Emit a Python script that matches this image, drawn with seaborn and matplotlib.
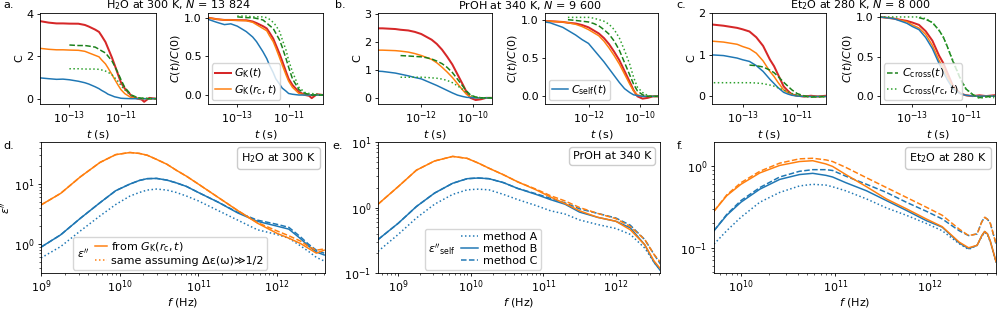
import numpy as np
import matplotlib
matplotlib.use('Agg')
import matplotlib.pyplot as plt
from matplotlib.lines import Line2D
from matplotlib.offsetbox import AnchoredText
from matplotlib.ticker import NullLocator
import seaborn as sns

# ---------------------------------------------------------------------------
# Top row: normalised time correlation functions C(t)/C(0), read off the
# right-hand panels, plus the amplitude C(0).
# order inside the *_C0 lists: G_K, G_K(rc), C_self, C_cross, C_cross(rc)
# ---------------------------------------------------------------------------
H2O_LOGT = [-14.15, -13.8, -13.5, -13.25, -13.0, -12.65, -12.4, -12.25, -12.0, -11.85, -11.75,
            -11.6, -11.5, -11.35, -11.25, -11.1, -11.0, -10.85, -10.6, -10.35, -10.2, -10.1, -9.9, -9.65]
H2O_GK = [1.0, 0.98, 0.97, 0.97, 0.967, 0.966, 0.95, 0.93, 0.89, 0.86, 0.81, 0.73, 0.65, 0.53,
          0.44, 0.30, 0.21, 0.13, 0.04, 0.0, -0.01, -0.04, 0.01, 0.0]
H2O_GK_RC = [1.0, 0.98, 0.97, 0.97, 0.965, 0.96, 0.94, 0.91, 0.86, 0.83, 0.77, 0.69, 0.61, 0.48,
             0.39, 0.26, 0.18, 0.10, 0.02, 0.0, 0.0, 0.0, 0.0, 0.0]
H2O_SELF = [0.98, 0.94, 0.91, 0.92, 0.89, 0.82, 0.75, 0.69, 0.56, 0.47, 0.39, 0.29, 0.21, 0.14,
            0.09, 0.05, 0.02, 0.01, 0.0, 0.0, 0.0, 0.0, 0.0, 0.0]
H2O_CROSS = [None, None, None, None, 1.01, 1.0, 1.0, 0.99, 0.97, 0.93, 0.9, 0.86, 0.8, 0.71,
             0.62, 0.47, 0.36, 0.21, 0.07, 0.02, 0.01, 0.0, 0.0, 0.0]
H2O_CROSS_RC = [None, None, None, None, 1.02, 1.02, 1.01, 1.01, 1.01, 1.0, 0.98, 0.94, 0.9, 0.82,
                0.72, 0.58, 0.45, 0.3, 0.1, 0.03, 0.02, 0.02, 0.01, 0.0]
H2O_C0 = [3.65, 2.37, 1.0, 2.5, 1.38]

PROH_LOGT = [-13.7, -13.5, -13.0, -12.8, -12.5, -12.25, -12.0, -11.8, -11.6, -11.4, -11.2,
             -11.0, -10.8, -10.6, -10.4, -10.25, -10.1, -9.9, -9.7, -9.5, -9.25]
PROH_GK = [0.98, 0.98, 0.97, 0.96, 0.95, 0.93, 0.9, 0.86, 0.82, 0.76, 0.68, 0.58, 0.47, 0.33,
           0.19, 0.08, 0.0, -0.03, -0.02, 0.0, 0.0]
PROH_GK_RC = [0.98, 0.98, 0.97, 0.96, 0.94, 0.91, 0.87, 0.83, 0.79, 0.72, 0.63, 0.53, 0.42, 0.29,
              0.16, 0.07, 0.02, 0.0, 0.0, 0.0, 0.0]
PROH_SELF = [0.97, 0.96, 0.9, 0.86, 0.8, 0.74, 0.69, 0.61, 0.53, 0.45, 0.36, 0.27, 0.18, 0.1,
             0.05, 0.02, 0.01, 0.0, 0.0, 0.0, 0.0]
PROH_CROSS = [None, None, None, 1.0, 0.99, 0.98, 0.97, 0.95, 0.92, 0.87, 0.81, 0.72, 0.6, 0.44,
              0.28, 0.16, 0.07, 0.02, 0.0, 0.0, 0.0]
PROH_CROSS_RC = [None, None, None, 1.03, 1.03, 1.03, 1.03, 1.02, 1.0, 0.98, 0.94, 0.87, 0.76, 0.6,
                 0.42, 0.25, 0.12, 0.05, 0.01, 0.0, 0.0]
PROH_C0 = [2.55, 1.75, 0.99, 1.52, 0.72]

ET2O_LOGT = [-14.2, -13.7, -13.2, -13.0, -12.75, -12.5, -12.25, -12.0, -11.85, -11.7, -11.5,
             -11.35, -11.2, -11.0, -10.75, -10.5, -10.25, -9.95]
ET2O_GK = [1.0, 0.98, 0.95, 0.93, 0.9, 0.82, 0.7, 0.51, 0.42, 0.3, 0.14, 0.08, 0.03, 0.01,
           0.0, 0.01, 0.0, 0.01]
ET2O_GK_RC = [1.0, 0.98, 0.94, 0.9, 0.86, 0.78, 0.64, 0.45, 0.36, 0.25, 0.12, 0.07, 0.03, 0.01,
              0.0, 0.0, 0.0, 0.0]
ET2O_SELF = [1.0, 0.98, 0.92, 0.88, 0.84, 0.74, 0.6, 0.41, 0.31, 0.21, 0.1, 0.06, 0.03, 0.01,
             0.0, 0.0, 0.0, 0.0]
ET2O_CROSS = [None, None, None, None, 0.99, 0.97, 0.93, 0.83, 0.75, 0.63, 0.45, 0.33, 0.21, 0.09,
              0.02, -0.02, -0.01, 0.0]
ET2O_CROSS_RC = [1.0, 1.0, 1.0, 1.0, 1.0, 0.98, 0.93, 0.83, 0.75, 0.63, 0.46, 0.34, 0.22, 0.09,
                 0.02, -0.03, -0.01, -0.02]
ET2O_C0 = [1.73, 1.33, 1.0, 0.76, 0.33]

# ---------------------------------------------------------------------------
# Bottom row: dielectric loss spectra, log10(eps'') against log10(f / Hz)
# ---------------------------------------------------------------------------
D_LOGF = [9.0, 9.25, 9.5, 9.75, 9.95, 10.13, 10.25, 10.35, 10.47, 10.6, 10.72, 10.85, 11.0,
          11.25, 11.5, 11.75, 12.0, 12.15, 12.3, 12.4, 12.5, 12.6]
D_ORANGE = [0.652, 0.845, 1.12, 1.36, 1.49, 1.525, 1.51, 1.48, 1.41, 1.33, 1.23, 1.13, 1.0,
            0.78, 0.56, 0.35, 0.18, 0.1, 0.01, -0.07, -0.15, -0.1]
D_ORANGE_DASH = [0.652, 0.845, 1.12, 1.36, 1.49, 1.525, 1.51, 1.48, 1.41, 1.33, 1.23, 1.13, 1.0,
                 0.78, 0.56, 0.36, 0.22, 0.14, 0.05, -0.04, -0.1, -0.08]
D_BLUE = [-0.05, 0.155, 0.43, 0.69, 0.89, 1.0, 1.06, 1.09, 1.094, 1.066, 1.02, 0.96, 0.86,
          0.7, 0.52, 0.38, 0.3, 0.25, 0.09, -0.03, -0.13, -0.18]
D_BLUE_DASH = [-0.05, 0.155, 0.43, 0.69, 0.89, 1.0, 1.06, 1.09, 1.094, 1.066, 1.02, 0.96, 0.86,
               0.7, 0.53, 0.4, 0.33, 0.28, 0.12, 0.0, -0.1, -0.15]
D_BLUE_DOT = [-0.23, -0.04, 0.22, 0.47, 0.66, 0.8, 0.86, 0.9, 0.917, 0.9, 0.86, 0.8, 0.72,
              0.56, 0.4, 0.24, 0.16, 0.1, -0.03, -0.12, -0.22, -0.28]

E_LOGF = [8.72, 9.0, 9.25, 9.5, 9.75, 9.95, 10.1, 10.25, 10.45, 10.65, 10.9, 11.1, 11.3, 11.5,
          11.75, 12.0, 12.2, 12.4, 12.53, 12.62]
E_ORANGE = [0.05, 0.32, 0.57, 0.71, 0.78, 0.75, 0.68, 0.6, 0.5, 0.39, 0.27, 0.16, 0.06, -0.05,
            -0.15, -0.21, -0.34, -0.57, -0.82, -0.94]
E_ORANGE_DASH = [0.05, 0.32, 0.57, 0.71, 0.78, 0.75, 0.68, 0.6, 0.5, 0.39, 0.28, 0.18, 0.1, 0.0,
                 -0.09, -0.17, -0.29, -0.49, -0.72, -0.84]
E_BLUE = [-0.49, -0.24, 0.015, 0.22, 0.37, 0.44, 0.45, 0.44, 0.38, 0.29, 0.2, 0.12, 0.05, -0.07,
          -0.15, -0.21, -0.31, -0.57, -0.84, -0.97]
E_BLUE_DASH = [-0.49, -0.24, 0.015, 0.22, 0.37, 0.44, 0.45, 0.44, 0.38, 0.29, 0.21, 0.14, 0.07,
               -0.02, -0.09, -0.16, -0.27, -0.49, -0.72, -0.87]
E_BLUE_DOT = [-0.67, -0.41, -0.16, 0.05, 0.2, 0.27, 0.28, 0.27, 0.2, 0.12, 0.03, -0.05, -0.1,
              -0.19, -0.26, -0.32, -0.41, -0.62, -0.84, -0.96]

F_LOGF = [9.715, 9.85, 10.0, 10.2, 10.41, 10.62, 10.76, 10.9, 10.97, 11.11, 11.33, 11.54, 11.75,
          11.96, 12.13, 12.31, 12.41, 12.5, 12.55, 12.58, 12.61, 12.64, 12.7]
F_ORANGE = [-0.55, -0.36, -0.22, -0.08, 0.012, 0.06, 0.07, 0.03, 0.0, -0.1, -0.25, -0.4, -0.52,
            -0.645, -0.74, -0.93, -1.0, -0.97, -0.85, -0.8, -0.83, -0.92, -1.17]
F_ORANGE_DASH = [-0.55, -0.35, -0.2, -0.06, 0.04, 0.093, 0.1, 0.08, 0.06, -0.012, -0.14, -0.26,
                 -0.38, -0.5, -0.6, -0.77, -0.85, -0.83, -0.68, -0.625, -0.65, -0.7, -0.95]
F_BLUE = [-0.79, -0.6, -0.44, -0.28, -0.16, -0.1, -0.085, -0.11, -0.13, -0.2, -0.3, -0.42, -0.54,
          -0.665, -0.746, -0.94, -1.01, -0.97, -0.85, -0.8, -0.83, -0.92, -1.17]
F_BLUE_DASH = [-0.79, -0.59, -0.42, -0.26, -0.13, -0.06, -0.04, -0.04, -0.05, -0.12, -0.22, -0.32,
               -0.44, -0.55, -0.645, -0.79, -0.85, -0.83, -0.68, -0.625, -0.65, -0.7, -0.95]
F_BLUE_DOT = [-0.955, -0.79, -0.625, -0.44, -0.32, -0.24, -0.22, -0.23, -0.25, -0.3, -0.4, -0.51,
              -0.6, -0.7, -0.79, -0.95, -1.02, -0.97, -0.86, -0.81, -0.84, -0.93, -1.18]

SYSTEM_TITLES = [r'H$_2$O at 300 K, $N$ = 13 824', r'PrOH at 340 K, $N$ = 9 600',
                 r'Et$_2$O at 280 K, $N$ = 8 000']
SYSTEM_LABELS = [r'H$_2$O at 300 K', 'PrOH at 340 K', r'Et$_2$O at 280 K']

# ---------------------------------------------------------------------------
FS = 8.0
plt.rcParams.update({
    'font.family': ['DejaVu Sans'],
    'font.size': FS,
    'axes.linewidth': 0.6,
    'xtick.major.size': 2.5, 'ytick.major.size': 2.5,
    'xtick.minor.size': 1.45, 'ytick.minor.size': 1.45,
    'xtick.major.width': 0.6, 'ytick.major.width': 0.6,
    'xtick.minor.width': 0.45, 'ytick.minor.width': 0.45,
    'xtick.major.pad': 1.5, 'ytick.major.pad': 2.2,
    'axes.labelpad': 1.5,
    'lines.linewidth': 1.08,
    'legend.fontsize': FS,
})

RED, ORANGE, BLUE = '#d62728', '#ff7f0e', '#1f77b4'
DGREEN, LGREEN = '#1a801a', '#2ca02c'
# (colour, linestyle, linewidth) for G_K, G_K(rc), C_self, C_cross, C_cross(rc)
TOP_STYLES = [(RED, '-', 1.45), (ORANGE, '-', 1.08), (BLUE, '-', 1.08),
              (DGREEN, '--', 1.08), (LGREEN, ':', 1.08)]

W, H = 997, 309
fig = plt.figure(figsize=(W / 100, H / 100), dpi=100)


def px_axes(x0, y0, x1, y1):
    return fig.add_axes([x0 / W, 1 - y1 / H, (x1 - x0) / W, (y1 - y0) / H])


def draw(ax, x, y, color, ls='-', lw=1.08):
    x = np.asarray(x, dtype=float)
    y = np.asarray(y, dtype=float)
    sns.lineplot(x=x, y=y, ax=ax, color=color, linestyle=ls, linewidth=lw,
                 errorbar=None, sort=False)


top_boxes = [((40, 13, 156, 104), (208, 13, 323, 104)),
             ((378, 13, 492, 104), (545, 13, 658, 104)),
             ((712, 13, 826, 104), (880, 13, 995, 104))]
top_data = [(H2O_LOGT, [H2O_GK, H2O_GK_RC, H2O_SELF, H2O_CROSS, H2O_CROSS_RC], H2O_C0),
            (PROH_LOGT, [PROH_GK, PROH_GK_RC, PROH_SELF, PROH_CROSS, PROH_CROSS_RC], PROH_C0),
            (ET2O_LOGT, [ET2O_GK, ET2O_GK_RC, ET2O_SELF, ET2O_CROSS, ET2O_CROSS_RC], ET2O_C0)]
top_xlim = [(-14.14, -9.64), (-13.67, -9.27), (-14.12, -9.95)]
top_xlim_r = [(-14.14, -9.66), (-13.69, -9.3), (-14.2, -9.92)]
top_ylim = [((-0.25, 4.03), (-0.116, 1.06)), ((-0.22, 3.05), (-0.1, 1.087)),
            ((-0.18, 2.0), (-0.1, 1.05))]
top_xticks = [[1e-13, 1e-11], [1e-12, 1e-10], [1e-13, 1e-11]]
top_yticks = [[0, 2, 4], [0, 1, 2, 3], [0, 1, 2]]
legend_sets = [[0, 1], [2], [3, 4]]
legend_labels = [r'$G_\mathrm{K}(t)$', r'$G_\mathrm{K}(r_\mathrm{c},t)$', r'$C_\mathrm{self}(t)$',
                 r'$C_\mathrm{cross}(t)$', r'$C_\mathrm{cross}(r_\mathrm{c},t)$']
legend_hl = [1.4, 1.4, 1.0]
title_x = [178, 530, 860]

for i in range(3):
    logt, norm, amp = top_data[i]
    t = 10.0 ** np.asarray(logt)
    axl = px_axes(*top_boxes[i][0])
    axr = px_axes(*top_boxes[i][1])
    for k in range(5):
        c, ls, lw = TOP_STYLES[k]
        yn = np.asarray(norm[k], dtype=float)
        draw(axl, t, amp[k] * yn, c, ls, lw)
        draw(axr, t, yn, c, ls, lw)
    for ax, xl, yl in ((axl, top_xlim[i], top_ylim[i][0]), (axr, top_xlim_r[i], top_ylim[i][1])):
        ax.set_xscale('log')
        ax.set_xlim(10 ** xl[0], 10 ** xl[1])
        ax.set_ylim(*yl)
        ax.set_xticks(top_xticks[i])
        ax.xaxis.set_minor_locator(NullLocator())
        ax.set_xlabel(r'$t$ (s)')
    axl.set_yticks(top_yticks[i])
    axr.set_yticks([0.0, 0.5, 1.0])
    axl.set_ylabel('C')
    axr.set_ylabel(r'$C(t)/C(0)$')
    handles = [Line2D([], [], color=TOP_STYLES[k][0], ls=TOP_STYLES[k][1], lw=TOP_STYLES[k][2])
               for k in legend_sets[i]]
    axr.legend(handles, [legend_labels[k] for k in legend_sets[i]], loc='lower left',
               handlelength=legend_hl[i], handletextpad=0.3, borderpad=0.3, labelspacing=0.25,
               borderaxespad=0.35)
    fig.text(title_x[i] / W, 1 - 5 / H, SYSTEM_TITLES[i], ha='center', va='center')

# ---------------------------------------------------------------------------
bot_boxes = [(41, 142, 325, 273), (378, 142, 660, 273), (714, 142, 996, 273)]
bot_data = [(D_LOGF, D_ORANGE, D_ORANGE_DASH, D_BLUE, D_BLUE_DASH, D_BLUE_DOT),
            (E_LOGF, E_ORANGE, E_ORANGE_DASH, E_BLUE, E_BLUE_DASH, E_BLUE_DOT),
            (F_LOGF, F_ORANGE, F_ORANGE_DASH, F_BLUE, F_BLUE_DASH, F_BLUE_DOT)]
bot_xlim = [(9.0, 12.61), (8.72, 12.61), (9.715, 12.7)]
bot_ylim = [(-0.48, 1.70), (-1.0, 1.0), (-1.31, 0.30)]


def side_title_legend(ax, handles, labels, title, **kw):
    # legend whose title sits to the left of the entries
    leg = ax.legend(handles, labels, title=title, **kw)
    vbox = leg.get_children()[0]
    title_box, hbox = vbox.get_children()
    vbox._children = [hbox]
    hbox._children = [title_box] + hbox.get_children()
    hbox.align = 'center'
    return leg


bot_axes = []
for i in range(3):
    logf, o, od, b, bd, bdot = bot_data[i]
    f = 10.0 ** np.asarray(logf)
    ax = px_axes(*bot_boxes[i])
    bot_axes.append(ax)
    draw(ax, f, 10.0 ** np.asarray(bdot), BLUE, ':', 1.08)
    draw(ax, f, 10.0 ** np.asarray(b), BLUE, '-', 1.08)
    draw(ax, f, 10.0 ** np.asarray(bd), BLUE, '--', 1.08)
    draw(ax, f, 10.0 ** np.asarray(o), ORANGE, '-', 1.08)
    draw(ax, f, 10.0 ** np.asarray(od), ORANGE, '--', 1.08)
    ax.set_xscale('log')
    ax.set_yscale('log')
    ax.set_xlim(10 ** bot_xlim[i][0], 10 ** bot_xlim[i][1])
    ax.set_ylim(10 ** bot_ylim[i][0], 10 ** bot_ylim[i][1])
    ax.set_xlabel(r'$f$ (Hz)', labelpad=0.3)
    at = AnchoredText(SYSTEM_LABELS[i], loc='upper right', frameon=True, pad=0.35,
                      borderpad=0.45, prop=dict(size=FS))
    at.patch.set_boxstyle('round,pad=0,rounding_size=0.25')
    at.patch.set_edgecolor('0.8')
    ax.add_artist(at)

bot_axes[0].set_ylabel(r"$\varepsilon''$")
side_title_legend(bot_axes[0],
                  [Line2D([], [], color=ORANGE, lw=1.08),
                   Line2D([], [], color=ORANGE, lw=1.08, ls=':')],
                  [r'from $G_\mathrm{K}(r_\mathrm{c},t)$', 'same assuming Δε(ω)≫1/2'],
                  r"$\varepsilon''$", loc='lower center', bbox_to_anchor=(0.455, 0.0),
                  handlelength=1.1, handletextpad=0.4, borderpad=0.3, labelspacing=0.2,
                  columnspacing=0.5, borderaxespad=0.3)
side_title_legend(bot_axes[1],
                  [Line2D([], [], color=BLUE, lw=1.08, ls=':'),
                   Line2D([], [], color=BLUE, lw=1.08),
                   Line2D([], [], color=BLUE, lw=1.08, ls='--')],
                  ['method A', 'method B', 'method C'],
                  r"$\varepsilon''_\mathrm{self}$", loc='lower left', bbox_to_anchor=(0.155, 0.0),
                  handlelength=1.5, handletextpad=0.5, borderpad=0.3, labelspacing=0.2,
                  columnspacing=0.5, borderaxespad=0.3)

for lab, x, y in (('a.', 3, 5), ('b.', 335, 5), ('c.', 676, 5),
                  ('d.', 3, 146), ('e.', 332, 146), ('f.', 677, 146)):
    fig.text(x / W, 1 - y / H, lab, ha='left', va='center')

fig.savefig('out.png', dpi=100)
